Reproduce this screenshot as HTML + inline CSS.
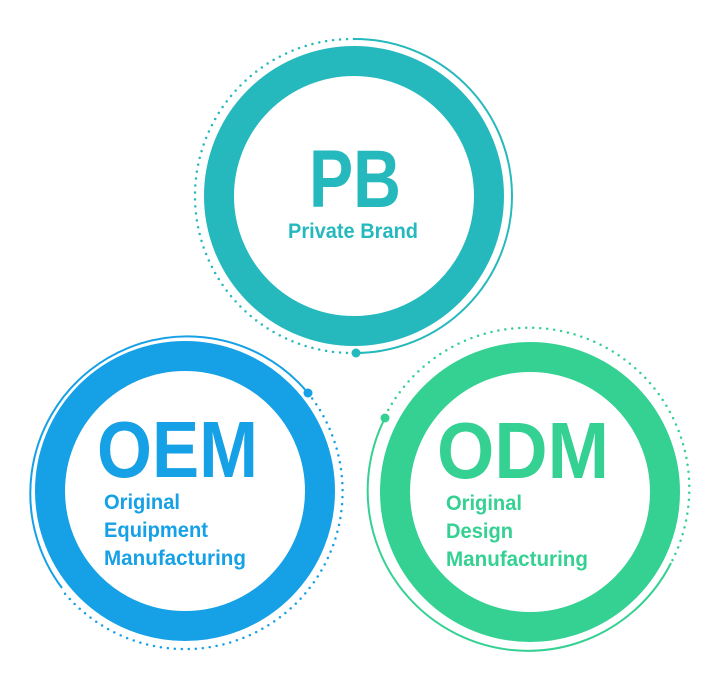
<!DOCTYPE html>
<html><head><meta charset="utf-8"><style>
html,body{margin:0;padding:0;background:#fff;}
svg{display:block;}
text{font-family:"Liberation Sans",sans-serif;font-weight:bold;}
</style></head><body>
<svg width="710" height="685" viewBox="0 0 710 685" xmlns="http://www.w3.org/2000/svg">
<!-- PB -->
<g fill="none" stroke="#25b9be">
<circle cx="354" cy="196" r="135" stroke-width="30"/>
<path d="M354 39 A157 157 0 0 1 356 353" stroke-width="2"/>
<path d="M354 39 A157 157 0 0 0 350 353" stroke-width="2.5" stroke-dasharray="0 7" stroke-linecap="round"/>
</g>
<circle cx="356" cy="353" r="4.5" fill="#25b9be"/>
<text x="309" y="207" font-size="82" fill="#25b9be" textLength="92" lengthAdjust="spacingAndGlyphs">PB</text>
<text x="288" y="238" font-size="21" fill="#25b9be" textLength="130" lengthAdjust="spacingAndGlyphs">Private Brand</text>

<!-- OEM -->
<g fill="none" stroke="#16a0e6">
<circle cx="185" cy="491" r="135" stroke-width="30"/>
<path d="M308 393 A157 157 0 0 0 62 588" stroke-width="2"/>
<path d="M308 393 A157 157 0 1 1 62 590" stroke-width="2.5" stroke-dasharray="0 7" stroke-linecap="round"/>
</g>
<circle cx="308" cy="393" r="4.5" fill="#16a0e6"/>
<text x="97" y="477" font-size="80" fill="#16a0e6" textLength="161" lengthAdjust="spacingAndGlyphs">OEM</text>
<text x="104" y="509" font-size="21" fill="#16a0e6" textLength="76" lengthAdjust="spacingAndGlyphs">Original</text>
<text x="104" y="537" font-size="21" fill="#16a0e6" textLength="104" lengthAdjust="spacingAndGlyphs">Equipment</text>
<text x="104" y="565" font-size="21" fill="#16a0e6" textLength="142" lengthAdjust="spacingAndGlyphs">Manufacturing</text>

<!-- ODM -->
<g fill="none" stroke="#34d193">
<circle cx="530" cy="492" r="135" stroke-width="30"/>
<path d="M385 418 A157 157 0 1 0 671 563" stroke-width="2"/>
<path d="M385 416 A157 157 0 1 1 672 561" stroke-width="2.5" stroke-dasharray="0 7" stroke-linecap="round"/>
</g>
<circle cx="385" cy="418" r="4.5" fill="#34d193"/>
<text x="437" y="478" font-size="80" fill="#34d193" textLength="172" lengthAdjust="spacingAndGlyphs">ODM</text>
<text x="446" y="510" font-size="21" fill="#34d193" textLength="76" lengthAdjust="spacingAndGlyphs">Original</text>
<text x="446" y="538" font-size="21" fill="#34d193" textLength="67" lengthAdjust="spacingAndGlyphs">Design</text>
<text x="446" y="566" font-size="21" fill="#34d193" textLength="142" lengthAdjust="spacingAndGlyphs">Manufacturing</text>
</svg>
</body></html>
